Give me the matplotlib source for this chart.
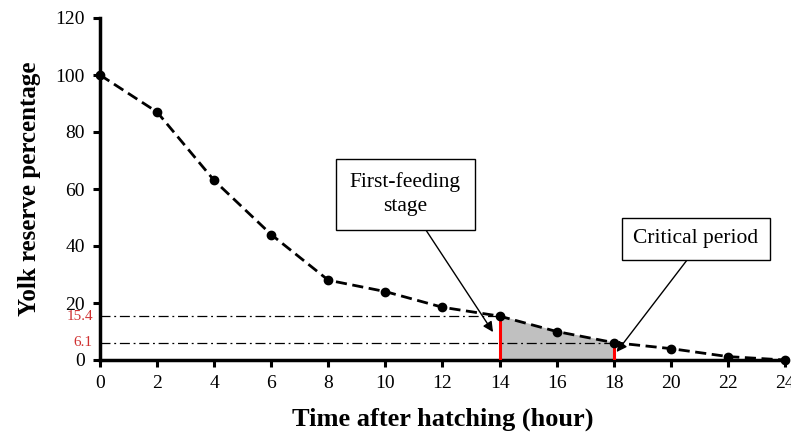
import matplotlib
matplotlib.use("Agg")
import matplotlib.pyplot as plt
import numpy as np

hours = [0, 2, 4, 6, 8, 10, 12, 14, 16, 18, 20, 22, 24]
yolk = [100, 87, 63, 44, 28, 24, 18.5, 15.4, 10, 6.1, 4, 1.2, 0]
x_ticks = list(range(0, 25, 2))
y_ticks = [0, 20, 40, 60, 80, 100, 120]
first_feeding_hour = 14
critical_hour = 18
level_first = 15.4
level_critical = 6.1

plt.rcParams['font.family'] = ['Liberation Serif', 'DejaVu Serif']

fig = plt.figure(figsize=(7.91, 4.41), dpi=100)
ax = fig.add_axes([100/791, 1-360/441, 685/791, 342/441])

# shaded critical period
xs = np.array(hours)
ys = np.array(yolk)
mask = (xs >= first_feeding_hour) & (xs <= critical_hour)
ax.fill_between(xs[mask], 0, ys[mask], color='#c0c0c0', zorder=1)

# dash-dot reference lines
ax.plot([0, first_feeding_hour], [level_first, level_first], color='black', lw=0.9, ls=(0, (8, 3, 1.5, 3)), zorder=2)
ax.plot([0, critical_hour], [level_critical, level_critical], color='black', lw=0.9, ls=(0, (8, 3, 1.5, 3)), zorder=2)

# red verticals
ax.plot([first_feeding_hour, first_feeding_hour], [0, level_first], color='red', lw=2.2, zorder=3)
ax.plot([critical_hour, critical_hour], [0, level_critical], color='red', lw=2.2, zorder=3)

ax.plot(hours, yolk, color='black', ls=(0, (4, 2)), lw=2, marker='o', ms=6, mfc='black', mec='black', zorder=4, clip_on=False)

ax.set_xlim(0, 24)
ax.set_ylim(0, 120)
ax.set_xticks(x_ticks)
ax.set_yticks(y_ticks)
ax.spines['top'].set_visible(False)
ax.spines['right'].set_visible(False)
for s in ['left', 'bottom']:
    ax.spines[s].set_linewidth(2.5)
ax.tick_params(axis='both', direction='out', length=5, width=2.2, labelsize=14, pad=6)

# red tick-like labels
ax.text(-0.25, level_first, '15.4', color='#d03030', fontsize=11, ha='right', va='center')
ax.text(-0.25, level_critical, '6.1', color='#d03030', fontsize=11, ha='right', va='center')

ax.set_xlabel('Time after hatching (hour)', fontsize=19, fontweight='bold', labelpad=11)
ax.set_ylabel('Yolk reserve percentage', fontsize=18, fontweight='bold', labelpad=10)

box = dict(boxstyle='square,pad=0.55', fc='white', ec='black', lw=1)
ax.annotate('First-feeding\nstage', xy=(13.77, 9.8), xytext=(10.7, 58.2),
            fontsize=15.5, ha='center', va='center', bbox=dict(boxstyle='square,pad=0.65', fc='white', ec='black', lw=1),
            linespacing=1.3,
            arrowprops=dict(arrowstyle='-|>', color='black', lw=1, mutation_scale=15,
                            shrinkA=0, shrinkB=0, relpos=(0.6, 0)))
ax.annotate('Critical period', xy=(18.1, 2.8), xytext=(20.88, 42.5),
            fontsize=15.5, ha='center', va='center', bbox=box,
            arrowprops=dict(arrowstyle='-|>', color='black', lw=1, mutation_scale=15,
                            shrinkA=0, shrinkB=0, relpos=(0.5, 0)))

fig.savefig('out.png', dpi=100)
